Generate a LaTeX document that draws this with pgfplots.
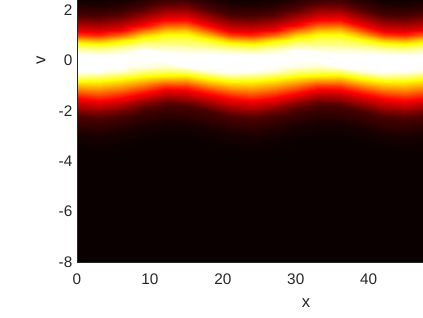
\documentclass[border=0pt]{standalone}
\usepackage{fontspec}
\setmainfont{Liberation Sans}
\usepackage{pgfplots}
\pgfplotsset{compat=1.18}
\definecolor{axc}{gray}{0.15}
\begin{document}
\begin{tikzpicture}[x=0.75pt,y=0.75pt]
\path[use as bounding box] (-77,-55) rectangle (346,262);
\begin{axis}[
  at={(0pt,0pt)}, anchor=south west,
  scale only axis, width=346*0.75pt, height=262*0.75pt,
  xmin=0, xmax=47.45, ymin=-8, ymax=2.4,
  view={0}{90},
  axis x line*=bottom, axis y line*=left,
  axis line style={axc,line width=0.4pt,-},
  axis on top,
  xtick={0,10,20,30,40}, ytick={-8,-6,-4,-2,0,2},
  tick style={draw=none},
  /pgf/number format/assume math mode=true,
  tick label style={font=\fontsize{11.5}{13}\selectfont,text=axc},
  xticklabel style={yshift=-5.5pt},
  yticklabel style={xshift=0pt},
  colormap={hot}{rgb(0pt)=(0.0417,0,0) rgb(3.75pt)=(1,0,0) rgb(7.5pt)=(1,1,0) rgb(9.5pt)=(1,1,1)},
  point meta min=0, point meta max=0.95,
]
\addplot3[surf, shader=interp, mesh/ordering=y varies, mesh/rows=32, mesh/cols=17] table[row sep=\\] {
x y z\\
0 2.4 .01\\0 2.2 .035\\0 2 .066\\0 1.8 .097\\0 1.6 .173\\0 1.4 .254\\0 1.2 .335\\0 1 .469\\0 .8 .656\\0 .6 .798\\0 .4 .893\\0 .2 .96\\0 0 .986\\0 -.2 .988\\0 -.4 .963\\0 -.6 .868\\0 -.8 .75\\0 -1 .64\\0 -1.2 .529\\0 -1.4 .419\\0 -1.6 .329\\0 -1.8 .253\\0 -2 .176\\0 -2.2 .1\\0 -2.4 .078\\0 -2.6 .056\\0 -2.8 .033\\0 -3 .017\\0 -3.2 .011\\0 -3.4 .004\\0 -3.6 0\\0 -8 0\\
3 2.4 .01\\3 2.2 .029\\3 2 .06\\3 1.8 .091\\3 1.6 .157\\3 1.4 .238\\3 1.2 .318\\3 1 .431\\3 .8 .619\\3 .6 .779\\3 .4 .874\\3 .2 .956\\3 0 .984\\3 -.2 .986\\3 -.4 .959\\3 -.6 .855\\3 -.8 .75\\3 -1 .654\\3 -1.2 .558\\3 -1.4 .462\\3 -1.6 .367\\3 -1.8 .286\\3 -2 .205\\3 -2.2 .124\\3 -2.4 .086\\3 -2.6 .066\\3 -2.8 .046\\3 -3 .026\\3 -3.2 .015\\3 -3.4 .009\\3 -3.6 .001\\3 -8 0\\
6 2.4 .015\\6 2.2 .045\\6 2 .075\\6 1.8 .116\\6 1.6 .198\\6 1.4 .278\\6 1.2 .359\\6 1 .525\\6 .8 .713\\6 .6 .82\\6 .4 .907\\6 .2 .966\\6 0 .997\\6 -.2 .972\\6 -.4 .921\\6 -.6 .807\\6 -.8 .711\\6 -1 .612\\6 -1.2 .513\\6 -1.4 .414\\6 -1.6 .323\\6 -1.8 .237\\6 -2 .152\\6 -2.2 .092\\6 -2.4 .071\\6 -2.6 .049\\6 -2.8 .028\\6 -3 .016\\6 -3.2 .009\\6 -3.4 .003\\6 -3.6 0\\6 -8 0\\
9 2.4 .051\\9 2.2 .078\\9 2 .124\\9 1.8 .205\\9 1.6 .286\\9 1.4 .367\\9 1.2 .522\\9 1 .685\\9 .8 .796\\9 .6 .873\\9 .4 .95\\9 .2 .986\\9 0 .979\\9 -.2 .934\\9 -.4 .854\\9 -.6 .758\\9 -.8 .651\\9 -1 .54\\9 -1.2 .43\\9 -1.4 .328\\9 -1.6 .233\\9 -1.8 .138\\9 -2 .087\\9 -2.2 .066\\9 -2.4 .045\\9 -2.6 .024\\9 -2.8 .015\\9 -3 .008\\9 -3.2 .001\\9 -3.4 0\\9 -3.6 0\\9 -8 0\\
12 2.4 .082\\12 2.2 .132\\12 2 .213\\12 1.8 .294\\12 1.6 .375\\12 1.4 .509\\12 1.2 .643\\12 1 .761\\12 .8 .817\\12 .6 .872\\12 .4 .928\\12 .2 .98\\12 0 .976\\12 -.2 .912\\12 -.4 .835\\12 -.6 .736\\12 -.8 .591\\12 -1 .447\\12 -1.2 .331\\12 -1.4 .242\\12 -1.6 .153\\12 -1.8 .092\\12 -2 .071\\12 -2.2 .051\\12 -2.4 .03\\12 -2.6 .017\\12 -2.8 .01\\12 -3 .003\\12 -3.2 0\\12 -3.4 0\\12 -3.6 0\\12 -8 0\\
15 2.4 .085\\15 2.2 .14\\15 2 .221\\15 1.8 .302\\15 1.6 .388\\15 1.4 .522\\15 1.2 .656\\15 1 .765\\15 .8 .817\\15 .6 .863\\15 .4 .919\\15 .2 .967\\15 0 .992\\15 -.2 .95\\15 -.4 .85\\15 -.6 .723\\15 -.8 .589\\15 -1 .455\\15 -1.2 .342\\15 -1.4 .258\\15 -1.6 .175\\15 -1.8 .098\\15 -2 .076\\15 -2.2 .055\\15 -2.4 .033\\15 -2.6 .017\\15 -2.8 .011\\15 -3 .004\\15 -3.2 0\\15 -3.4 0\\15 -3.6 0\\15 -8 0\\
18 2.4 .045\\18 2.2 .075\\18 2 .116\\18 1.8 .197\\18 1.6 .278\\18 1.4 .359\\18 1.2 .495\\18 1 .645\\18 .8 .771\\18 .6 .843\\18 .4 .914\\18 .2 .965\\18 0 .995\\18 -.2 .974\\18 -.4 .924\\18 -.6 .803\\18 -.8 .688\\18 -1 .562\\18 -1.2 .437\\18 -1.4 .335\\18 -1.6 .254\\18 -1.8 .173\\18 -2 .09\\18 -2.2 .074\\18 -2.4 .053\\18 -2.6 .033\\18 -2.8 .017\\18 -3 .011\\18 -3.2 .004\\18 -3.4 0\\18 -3.6 0\\18 -8 0\\
21 2.4 .01\\21 2.2 .035\\21 2 .066\\21 1.8 .097\\21 1.6 .173\\21 1.4 .254\\21 1.2 .335\\21 1 .469\\21 .8 .656\\21 .6 .798\\21 .4 .893\\21 .2 .96\\21 0 .986\\21 -.2 .988\\21 -.4 .963\\21 -.6 .868\\21 -.8 .75\\21 -1 .64\\21 -1.2 .529\\21 -1.4 .419\\21 -1.6 .329\\21 -1.8 .253\\21 -2 .176\\21 -2.2 .1\\21 -2.4 .078\\21 -2.6 .056\\21 -2.8 .033\\21 -3 .017\\21 -3.2 .011\\21 -3.4 .004\\21 -3.6 0\\21 -8 0\\
24 2.4 .01\\24 2.2 .029\\24 2 .06\\24 1.8 .091\\24 1.6 .157\\24 1.4 .238\\24 1.2 .318\\24 1 .431\\24 .8 .619\\24 .6 .779\\24 .4 .874\\24 .2 .956\\24 0 .984\\24 -.2 .986\\24 -.4 .959\\24 -.6 .855\\24 -.8 .75\\24 -1 .654\\24 -1.2 .558\\24 -1.4 .462\\24 -1.6 .367\\24 -1.8 .286\\24 -2 .205\\24 -2.2 .124\\24 -2.4 .086\\24 -2.6 .066\\24 -2.8 .046\\24 -3 .026\\24 -3.2 .015\\24 -3.4 .009\\24 -3.6 .001\\24 -8 0\\
27 2.4 .015\\27 2.2 .045\\27 2 .075\\27 1.8 .116\\27 1.6 .198\\27 1.4 .278\\27 1.2 .359\\27 1 .525\\27 .8 .713\\27 .6 .82\\27 .4 .907\\27 .2 .966\\27 0 .997\\27 -.2 .972\\27 -.4 .921\\27 -.6 .807\\27 -.8 .711\\27 -1 .612\\27 -1.2 .513\\27 -1.4 .414\\27 -1.6 .323\\27 -1.8 .237\\27 -2 .152\\27 -2.2 .092\\27 -2.4 .071\\27 -2.6 .049\\27 -2.8 .028\\27 -3 .016\\27 -3.2 .009\\27 -3.4 .003\\27 -3.6 0\\27 -8 0\\
30 2.4 .051\\30 2.2 .078\\30 2 .124\\30 1.8 .205\\30 1.6 .286\\30 1.4 .367\\30 1.2 .522\\30 1 .685\\30 .8 .796\\30 .6 .873\\30 .4 .95\\30 .2 .986\\30 0 .979\\30 -.2 .934\\30 -.4 .854\\30 -.6 .758\\30 -.8 .651\\30 -1 .54\\30 -1.2 .43\\30 -1.4 .328\\30 -1.6 .233\\30 -1.8 .138\\30 -2 .087\\30 -2.2 .066\\30 -2.4 .045\\30 -2.6 .024\\30 -2.8 .015\\30 -3 .008\\30 -3.2 .001\\30 -3.4 0\\30 -3.6 0\\30 -8 0\\
33 2.4 .082\\33 2.2 .132\\33 2 .213\\33 1.8 .294\\33 1.6 .375\\33 1.4 .509\\33 1.2 .643\\33 1 .761\\33 .8 .817\\33 .6 .872\\33 .4 .928\\33 .2 .98\\33 0 .976\\33 -.2 .912\\33 -.4 .835\\33 -.6 .736\\33 -.8 .591\\33 -1 .447\\33 -1.2 .331\\33 -1.4 .242\\33 -1.6 .153\\33 -1.8 .092\\33 -2 .071\\33 -2.2 .051\\33 -2.4 .03\\33 -2.6 .017\\33 -2.8 .01\\33 -3 .003\\33 -3.2 0\\33 -3.4 0\\33 -3.6 0\\33 -8 0\\
36 2.4 .085\\36 2.2 .14\\36 2 .221\\36 1.8 .302\\36 1.6 .388\\36 1.4 .522\\36 1.2 .656\\36 1 .765\\36 .8 .817\\36 .6 .863\\36 .4 .919\\36 .2 .967\\36 0 .992\\36 -.2 .95\\36 -.4 .85\\36 -.6 .723\\36 -.8 .589\\36 -1 .455\\36 -1.2 .342\\36 -1.4 .258\\36 -1.6 .175\\36 -1.8 .098\\36 -2 .076\\36 -2.2 .055\\36 -2.4 .033\\36 -2.6 .017\\36 -2.8 .011\\36 -3 .004\\36 -3.2 0\\36 -3.4 0\\36 -3.6 0\\36 -8 0\\
39 2.4 .045\\39 2.2 .075\\39 2 .116\\39 1.8 .197\\39 1.6 .278\\39 1.4 .359\\39 1.2 .495\\39 1 .645\\39 .8 .771\\39 .6 .843\\39 .4 .914\\39 .2 .965\\39 0 .995\\39 -.2 .974\\39 -.4 .924\\39 -.6 .803\\39 -.8 .688\\39 -1 .562\\39 -1.2 .437\\39 -1.4 .335\\39 -1.6 .254\\39 -1.8 .173\\39 -2 .09\\39 -2.2 .074\\39 -2.4 .053\\39 -2.6 .033\\39 -2.8 .017\\39 -3 .011\\39 -3.2 .004\\39 -3.4 0\\39 -3.6 0\\39 -8 0\\
42 2.4 .01\\42 2.2 .035\\42 2 .066\\42 1.8 .097\\42 1.6 .173\\42 1.4 .254\\42 1.2 .335\\42 1 .469\\42 .8 .656\\42 .6 .798\\42 .4 .893\\42 .2 .96\\42 0 .986\\42 -.2 .988\\42 -.4 .963\\42 -.6 .868\\42 -.8 .75\\42 -1 .64\\42 -1.2 .529\\42 -1.4 .419\\42 -1.6 .329\\42 -1.8 .253\\42 -2 .176\\42 -2.2 .1\\42 -2.4 .078\\42 -2.6 .056\\42 -2.8 .033\\42 -3 .017\\42 -3.2 .011\\42 -3.4 .004\\42 -3.6 0\\42 -8 0\\
45 2.4 .01\\45 2.2 .029\\45 2 .06\\45 1.8 .091\\45 1.6 .157\\45 1.4 .238\\45 1.2 .318\\45 1 .431\\45 .8 .619\\45 .6 .779\\45 .4 .874\\45 .2 .956\\45 0 .984\\45 -.2 .986\\45 -.4 .959\\45 -.6 .855\\45 -.8 .75\\45 -1 .654\\45 -1.2 .558\\45 -1.4 .462\\45 -1.6 .367\\45 -1.8 .286\\45 -2 .205\\45 -2.2 .124\\45 -2.4 .086\\45 -2.6 .066\\45 -2.8 .046\\45 -3 .026\\45 -3.2 .015\\45 -3.4 .009\\45 -3.6 .001\\45 -8 0\\
48 2.4 .015\\48 2.2 .045\\48 2 .075\\48 1.8 .116\\48 1.6 .198\\48 1.4 .278\\48 1.2 .359\\48 1 .525\\48 .8 .713\\48 .6 .82\\48 .4 .907\\48 .2 .966\\48 0 .997\\48 -.2 .972\\48 -.4 .921\\48 -.6 .807\\48 -.8 .711\\48 -1 .612\\48 -1.2 .513\\48 -1.4 .414\\48 -1.6 .323\\48 -1.8 .237\\48 -2 .152\\48 -2.2 .092\\48 -2.4 .071\\48 -2.6 .049\\48 -2.8 .028\\48 -3 .016\\48 -3.2 .009\\48 -3.4 .003\\48 -3.6 0\\48 -8 0\\
};
\end{axis}
\node[text=axc,font=\fontsize{12.5}{14}\selectfont] at (229,-41) {x};
\node[text=axc,font=\fontsize{12.5}{14}\selectfont,rotate=90] at (-36,202) {v};
\end{tikzpicture}
\end{document}
